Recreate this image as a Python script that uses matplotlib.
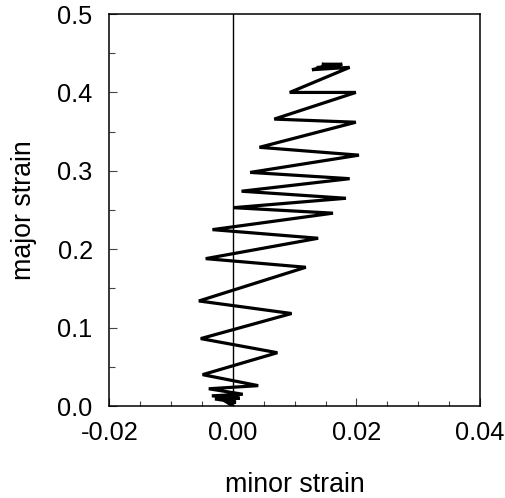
import matplotlib
matplotlib.use("Agg")
import matplotlib.pyplot as plt
from matplotlib.ticker import MultipleLocator

plt.rcParams['font.family'] = ['Liberation Sans', 'DejaVu Sans']

# strain path (minor, major)
minor_strain = [0.0000, -0.0008, 0.0005, -0.0029, 0.0011, -0.0034, 0.0016,
                -0.0039, 0.0041, -0.0049, 0.0072, -0.0052, 0.0095, -0.0055,
                0.0118, -0.0044, 0.0138, -0.0033, 0.0162, 0.0001, 0.0183,
                0.0014, 0.0189, 0.0028, 0.0204, 0.0043, 0.0199, 0.0067,
                0.0199, 0.0092, 0.0189, 0.0128, 0.0157, 0.0144, 0.0177,
                0.0167, 0.0138]
major_strain = [0.000, 0.004, 0.005, 0.009, 0.010, 0.013, 0.015,
                0.022, 0.026, 0.040, 0.068, 0.086, 0.118, 0.134,
                0.177, 0.188, 0.214, 0.225, 0.246, 0.253, 0.265,
                0.274, 0.290, 0.298, 0.320, 0.330, 0.362, 0.366,
                0.400, 0.400, 0.432, 0.429, 0.434, 0.436, 0.436,
                0.434, 0.432]

xticks = [-0.02, 0.00, 0.02, 0.04]
xtick_labels = ['-0.02', '0.00', '0.02', '0.04']
yticks = [0.0, 0.1, 0.2, 0.3, 0.4, 0.5]
ytick_labels = ['0.0', '0.1', '0.2', '0.3', '0.4', '0.5']

fig = plt.figure(figsize=(5.06, 4.98), dpi=100)
ax = fig.add_axes([0.216, 0.1847, 0.7327, 0.7871])

ax.axvline(0, color='black', lw=1.0, zorder=1)
ax.plot(minor_strain, major_strain, color='black', lw=2.3,
        solid_joinstyle='miter', zorder=2)

ax.set_xlim(-0.02, 0.04)
ax.set_ylim(0.0, 0.5)
ax.set_xticks(xticks)
ax.set_xticklabels(xtick_labels)
ax.set_yticks(yticks)
ax.set_yticklabels(ytick_labels)
ax.xaxis.set_minor_locator(MultipleLocator(0.005))
ax.yaxis.set_minor_locator(MultipleLocator(0.05))

ax.tick_params(which='both', direction='in', top=False, right=False,
               labelsize=18.3, width=0.8, color='#444444')
ax.tick_params(axis='x', which='major', length=5.5, pad=10.5)
ax.tick_params(axis='x', which='minor', length=3.6)
ax.tick_params(axis='y', which='major', length=5.5, pad=12)
ax.tick_params(axis='y', which='minor', length=4.3)

for sp in ax.spines.values():
    sp.set_linewidth(1.1)

ax.set_xlabel('minor strain', fontsize=19.3, labelpad=20)
ax.set_ylabel('major strain', fontsize=19.3, labelpad=15)

fig.savefig('out.png', dpi=100)
